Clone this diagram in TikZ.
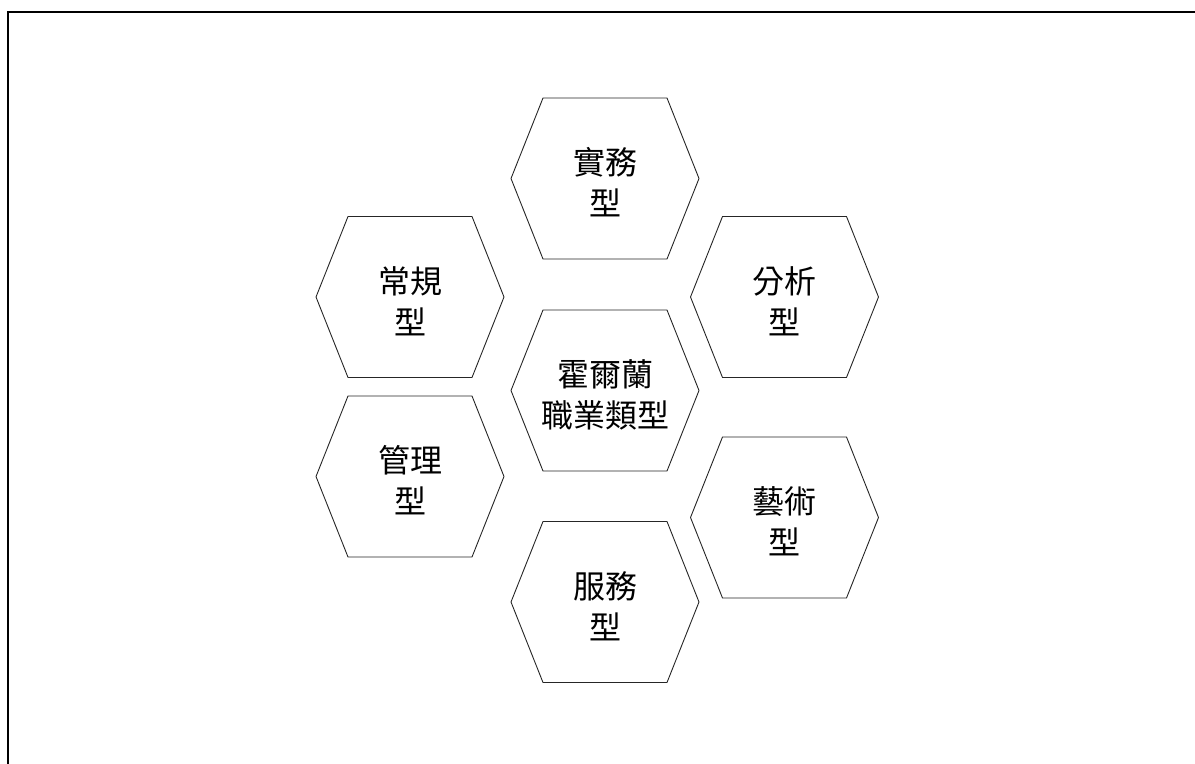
\documentclass[tikz,border=0pt]{standalone}
\usepackage{fontspec}
\newfontfamily\cjk{Noto Sans CJK TC}
\begin{document}
\begin{tikzpicture}[x=1bp,y=-1bp,
  hexline/.style={draw=black!85,line width=0.9bp,line join=miter},
  hextext/.style={font=\cjk\fontsize{32bp}{41bp}\selectfont,align=center,inner sep=0pt,text=black},
  frameline/.style={draw=black,line width=1.6bp}]
\useasboundingbox (0,0) rectangle (1195,764);
\clip (0,0) rectangle (1195,764);
\draw[frameline] (8,780) -- (8,12) -- (1210,12);
\foreach \n/\cx/\cy/\t in {
  shiwu/605/178.5/{實務\\型},
  changgui/410/297/{常規\\型},
  fenxi/784.5/297/{分析\\型},
  center/605/390.5/{霍爾蘭\\職業類型},
  guanli/410/476.5/{管理\\型},
  yishu/784.5/517.5/{藝術\\型},
  fuwu/605/602/{服務\\型}}{
  \coordinate (\n) at (\cx,\cy);
  \draw[hexline] ([shift={(-94,0)}]\n) -- ([shift={(-62,-80.5)}]\n) -- ([shift={(62,-80.5)}]\n)
    -- ([shift={(94,0)}]\n) -- ([shift={(62,80.5)}]\n) -- ([shift={(-62,80.5)}]\n) -- cycle;
  \node[hextext] (\n-text) at ([shift={(0,4)}]\n) {\t};
}
\end{tikzpicture}
\end{document}
